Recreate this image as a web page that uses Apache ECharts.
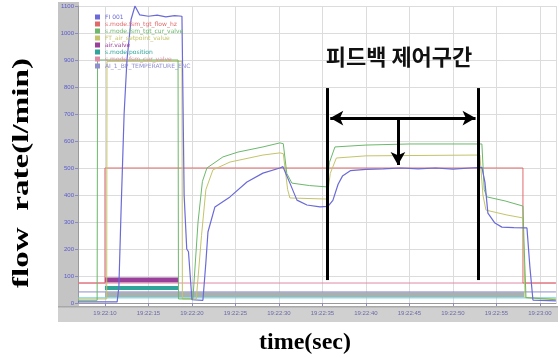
<!DOCTYPE html>
<html>
<head>
<meta charset="utf-8">
<script src="https://cdn.jsdelivr.net/npm/echarts@6/dist/echarts.min.js"></script>
<style>
  html, body { margin: 0; padding: 0; background: #fff; }
  #chart { width: 560px; height: 358px; }
</style>
</head>
<body>
<div id="chart"></div>
<script>
// time = seconds after 19:22:00, values in logger units
const clockStart = 19 * 3600 + 22 * 60;

const flowT = [6.9, 11.4, 11.6, 11.84, 12.2, 12.53, 13.0, 13.45, 14.0, 15, 16, 17, 18, 18.85, 19.1, 19.4, 19.6, 20.0, 21.26, 21.6, 21.84, 22.64, 24.37, 26.32, 28.16, 30.11, 30.46, 31.26, 32.07, 33.22, 34.71, 35.63, 36.2, 36.8, 37.3, 38.2, 40, 42, 44, 46, 48, 50, 52, 53.33, 53.68, 54.02, 54.83, 55.63, 57, 58.51, 58.85, 59.2, 61.84];
const flowV = [4, 4, 60, 330, 700, 900, 1050, 1100, 1067, 1062, 1066, 1060, 1064, 1062, 400, 200, 190, 12, 10, 150, 263, 356, 393, 448, 481, 500, 505, 444, 381, 363, 356, 358, 380, 440, 470, 490, 495, 497, 500, 497, 500, 496, 500, 502, 448, 333, 296, 281, 279, 278, 133, 11, 8];

const targetT = [6.9, 10, 10, 58.05, 58.05, 61.84];
const targetV = [74, 74, 500, 500, 74, 74];

const valveT = [6.9, 9.1, 9.15, 18.4, 18.45, 20.11, 20.7, 21.2, 21.72, 23.56, 25.29, 28.16, 30.11, 30.5, 30.9, 31.49, 33.5, 35.52, 35.8, 36.44, 40, 45, 53.33, 53.6, 53.9, 56, 58.05, 58.2, 58.4, 61.84];
const valveV = [10, 10, 900, 900, 15, 15, 300, 450, 500, 541, 559, 578, 593, 590, 480, 444, 435, 430, 520, 578, 585, 589, 589, 420, 393, 378, 359, 200, 20, 12];

const setpointT = [6.9, 10.2, 10.23, 18.85, 18.9, 20.5, 21.1, 21.6, 22.41, 24.37, 28.16, 30.11, 30.5, 31.0, 31.26, 35.52, 35.9, 36.6, 40, 53.1, 53.45, 53.8, 56.2, 58.05, 58.3, 61.84];
const setpointV = [15, 15, 895, 895, 15, 15, 250, 420, 493, 522, 548, 556, 553, 420, 389, 385, 480, 537, 545, 548, 400, 344, 326, 315, 20, 15];

// digital / auxiliary channels near the bottom
const airValveT = [10, 18.4];   const airValveV = [85, 85];
const positionT = [10, 18.4];   const positionV = [56, 56];
const baseT = [10, 58.2];       const baseV = [31, 31];
const curT = [6.9, 61.84];      const curV = [74, 74];
const tempT = [6.9, 61.84];     const tempV = [41, 41];
const auxT = [6.9, 61.84];      const auxV = [19, 19];

// feedback control window annotation
const windowT = [35.6, 52.9];
const windowV = [85, 796];
const spanT = [35.9, 52.6];
const spanV = 685;
const pointerT = 43.68;
const pointerV = [685, 511];

const legendNames = ['FI 001', 's.mode.fsm_tgt_flow_hz', 's.mode.fsm_tgt_cur_valve', 'FT_air_setpoint_value', 'air.valve', 's.mode.position', 's.mode.fsm_cur_valve', 'AI_1_BP_TEMPERATURE_ENC'];

const xy = (ts, vs) => ts.map((t, i) => [t, vs[i]]);
const line = (name, ts, vs, color, width) => ({
  name: name,
  type: 'line',
  data: xy(ts, vs),
  symbol: 'none',
  silent: true,
  lineStyle: { color: color, width: width },
  itemStyle: { color: color }
});

const clock = (v) => {
  const s = clockStart + Math.round(v);
  const p = (n) => String(n).padStart(2, '0');
  return p(Math.floor(s / 3600)) + ':' + p(Math.floor(s / 60) % 60) + ':' + p(s % 60);
};

const chart = echarts.init(document.getElementById('chart'));

const redSeries = line(legendNames[1], targetT, targetV, '#e06a6a', 1);
redSeries.markLine = {
  silent: true,
  animation: false,
  symbolSize: [11, 13],
  label: { show: false },
  lineStyle: { color: '#000', width: 3, type: 'solid' },
  data: [
    [{ coord: [windowT[0], windowV[0]], symbol: 'none' }, { coord: [windowT[0], windowV[1]], symbol: 'none' }],
    [{ coord: [windowT[1], windowV[0]], symbol: 'none' }, { coord: [windowT[1], windowV[1]], symbol: 'none' }],
    [{ coord: [spanT[0], spanV], symbol: 'arrow' }, { coord: [spanT[1], spanV], symbol: 'arrow' }],
    [{ coord: [pointerT, pointerV[0]], symbol: 'none' }, { coord: [pointerT, pointerV[1]], symbol: 'arrow' }]
  ]
};

const legendColors = ['#6a6ad8', '#e06a6a', '#6cb86c', '#c4c46a', '#9a3f9a', '#2fa59a', '#e08aa8', '#8f8fd0'];

chart.setOption({
  animation: false,
  backgroundColor: '#fff',
  grid: { left: 78, right: 4, top: 6, bottom: 55 },
  legend: {
    orient: 'vertical',
    left: 90,
    top: 9,
    itemGap: 1,
    itemWidth: 5,
    itemHeight: 5,
    icon: 'rect',
    selectedMode: false,
    textStyle: { fontSize: 6, fontFamily: 'DejaVu Sans' },
    data: legendNames.map((n, i) => ({ name: n, textStyle: { color: legendColors[i] } }))
  },
  graphic: [
    { type: 'rect', z: -10, shape: { x: 58, y: 2, width: 21, height: 320 }, style: { fill: '#c4c4c4' } },
    { type: 'rect', z: -10, shape: { x: 58, y: 306, width: 500, height: 16 }, style: { fill: '#d0d0d0' } },
    { type: 'rect', z: -9, shape: { x: 58, y: 306, width: 500, height: 1.5 }, style: { fill: '#a8a8a8' } },
    {
      type: 'text', z: 20,
      x: 399, y: 57,
      style: { text: '피드백 제어구간', align: 'center', verticalAlign: 'middle', font: 'bold 22px "Noto Sans CJK KR"', fill: '#111' }
    },
    {
      type: 'text', z: 20,
      x: 22, y: 173, rotation: Math.PI / 2, scaleX: 1.38,
      style: { text: 'flow  rate(l/min)', align: 'center', verticalAlign: 'middle', font: 'bold 24px "Liberation Serif"', fill: '#000' }
    },
    {
      type: 'text', z: 20,
      x: 305, y: 343,
      style: { text: 'time(sec)', align: 'center', verticalAlign: 'middle', font: 'bold 24px "Liberation Serif"', fill: '#000' }
    }
  ],
  xAxis: {
    type: 'value',
    min: 6.9,
    max: 61.85,
    splitNumber: 11,
    minInterval: 5,
    maxInterval: 5,
    axisLine: { lineStyle: { color: '#9a9a9a' } },
    axisTick: { length: 3, lineStyle: { color: '#8a8ac8' } },
    axisLabel: { fontSize: 6, color: '#6a6aa8', margin: 7, showMinLabel: false, showMaxLabel: false, formatter: clock },
    splitLine: { lineStyle: { color: '#dcdcdc' } }
  },
  yAxis: {
    type: 'value',
    min: 0,
    max: 1100,
    interval: 100,
    axisLine: { show: true, lineStyle: { color: '#9a9a9a' } },
    axisTick: { length: 3, lineStyle: { color: '#8a8ac8' } },
    axisLabel: { fontSize: 6, color: '#5a5ad0', margin: 4, formatter: (v) => String(v) },
    splitLine: { lineStyle: { color: '#dcdcdc' } }
  },
  series: [
    line('base', baseT, baseV, '#a9b1ae', 5),
    line(legendNames[4], airValveT, airValveV, '#9a3f9a', 5),
    line(legendNames[5], positionT, positionV, '#2fa59a', 4),
    line(legendNames[6], curT, curV, '#e08aa8', 1),
    line(legendNames[7], tempT, tempV, '#8f8fd0', 1),
    line('aux', auxT, auxV, '#5fd0e0', 1),
    redSeries,
    line(legendNames[3], setpointT, setpointV, '#c4c46a', 1),
    line(legendNames[2], valveT, valveV, '#6cb86c', 1),
    line(legendNames[0], flowT, flowV, '#6a6ad8', 1.2)
  ]
});
</script>
</body>
</html>
